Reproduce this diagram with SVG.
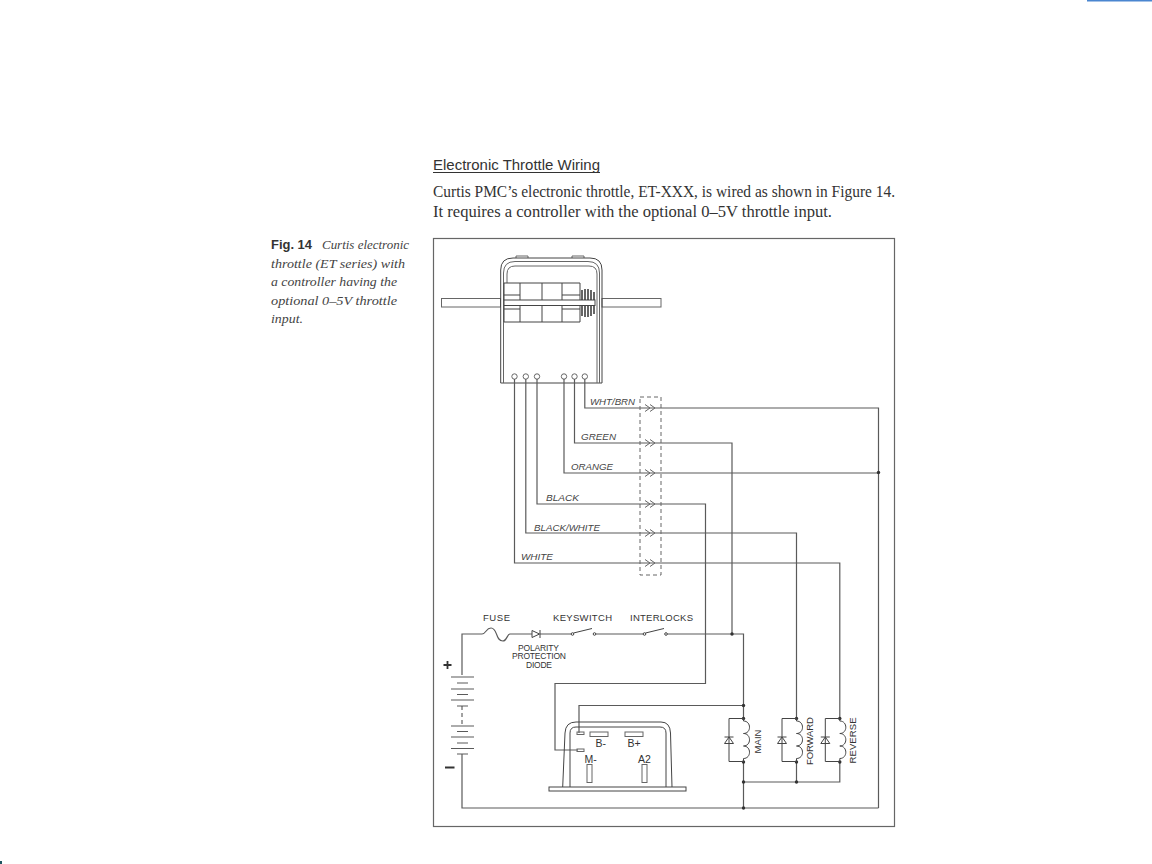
<svg xmlns="http://www.w3.org/2000/svg" width="1152" height="864" viewBox="0 0 1152 864">
<defs>
<style>
.l{fill:none;stroke:#444;stroke-width:1}
.w{fill:none;stroke:#5a5a5a;stroke-width:1.200}
.t{fill:none;stroke:#666;stroke-width:1}
.d{fill:#333;stroke:none}
.s{font-family:"Liberation Sans",Arial,sans-serif;fill:#333}
.i{font-family:"Liberation Sans",Arial,sans-serif;font-style:italic;font-size:9.5px;fill:#444}
.n{font-family:"Liberation Sans",Arial,sans-serif;font-size:9.5px;fill:#333}
.p{font-family:"Liberation Sans",Arial,sans-serif;font-size:8.5px;fill:#333}
.b{font-family:"Liberation Serif","Times New Roman",serif;font-size:17px;fill:#333}
.c{font-family:"Liberation Serif","Times New Roman",serif;font-style:italic;font-size:13.5px;fill:#444}
</style>
<g id="chev"><path class="t" d="M-5,-3.500 L0,0 L-5,3.500 M0,-3.500 L5,0 L0,3.500"/></g>
<g id="coil"><path class="l" d="M0,0 V2.500 C8,2.500 8,15 0,15 C8,15 8,27.500 0,27.500 C8,27.500 8,40 0,40 V43"/></g>
<g id="dio"><path class="l" d="M0,0 H-14.500 V43 H0 M-19,18.500 H-10 M-14.500,18.500 L-19,25 H-10 Z"/></g>
</defs>
<rect width="1152" height="864" fill="#fff"/>
<rect x="1087" y="0" width="65" height="1.500" fill="#4a86d0"/>
<rect x="0" y="861" width="2" height="3" fill="#1d5560"/>

<g id="heading">
<text class="s" x="433" y="170" font-size="14" textLength="167" lengthAdjust="spacingAndGlyphs">Electronic Throttle Wiring</text>
<path d="M433,172.500 H600" stroke="#333" stroke-width="1"/>
<text class="b" x="433" y="197" textLength="462" lengthAdjust="spacingAndGlyphs">Curtis PMC’s electronic throttle, ET-XXX, is wired as shown in Figure 14.</text>
<text class="b" x="433" y="217" textLength="399" lengthAdjust="spacingAndGlyphs">It requires a controller with the optional 0–5V throttle input.</text>
</g>
<g id="caption">
<text class="s" x="271" y="249" font-size="12" font-weight="bold" textLength="41" lengthAdjust="spacingAndGlyphs">Fig. 14</text>
<text class="c" x="322" y="249" textLength="87" lengthAdjust="spacingAndGlyphs">Curtis electronic</text>
<text class="c" x="271" y="268" textLength="134" lengthAdjust="spacingAndGlyphs">throttle (ET series) with</text>
<text class="c" x="271" y="286" textLength="126" lengthAdjust="spacingAndGlyphs">a controller having the</text>
<text class="c" x="271" y="305" textLength="126" lengthAdjust="spacingAndGlyphs">optional 0–5V throttle</text>
<text class="c" x="271" y="323" textLength="32" lengthAdjust="spacingAndGlyphs">input.</text>
</g>
<rect id="frame" x="433.500" y="238.500" width="461" height="588" fill="none" stroke="#666" stroke-width="1.200"/>

<g id="throttle">
<rect class="t" x="441.500" y="298.500" width="59" height="8.500"/>
<rect class="t" x="602" y="298.500" width="59" height="8.500"/>
<path class="t" d="M516,258 V256 H528 V258 M572,258 V256 H584 V258"/>
<path class="l" d="M500.700,383 V270 Q500.700,258 513,258 H590 Q602,258 602,270 V383 Z"/>
<path class="t" d="M503.500,383 V273 Q503.500,261.500 515,261.500 H588 Q599.500,261.500 599.500,273 V383"/>
<path class="t" d="M507,283 V274 Q507,266 515,266 H589 Q597,266 597,274 V383"/>
<path class="l" d="M504,283 H580 V300 M504,300 V283 M520,283 V300 M542,283 V300 M562,283 V300 M504,295 H520 M562,295 H580"/>
<path class="l" d="M504,306 V322 H580 V306 M520,306 V322 M542,306 V322 M562,306 V322 M504,309 H520 M562,309 H580"/>
<rect class="l" x="504" y="300" width="91" height="5.500"/>
<path d="M582,290 V300 M585,289 V300 M588,289 V300 M591,290 V300 M594,292 V300 M582,306 V316 M585,306 V317 M588,306 V317 M591,306 V316 M594,306 V314" fill="none" stroke="#333" stroke-width="1.500"/>
<circle class="t" cx="514.500" cy="376.500" r="2.700"/>
<circle class="t" cx="525.800" cy="376.500" r="2.700"/>
<circle class="t" cx="537" cy="376.500" r="2.700"/>
<circle class="t" cx="564" cy="376.500" r="2.700"/>
<circle class="t" cx="574.500" cy="376.500" r="2.700"/>
<circle class="t" cx="584.800" cy="376.500" r="2.700"/>
</g>

<g id="connectors">
<path class="w" d="M584.800,379 V408 H878.500 V808 M574.500,379 V443 H732 V634 M564,379 V473 H878.500 M537,379 V504 H705.500 V683.500 H555 V750 H578 M525.800,379 V533 H796.500 V718 M514.500,379 V563 H839.800 V718"/>
<path class="w" d="M462,675 V634 H482 M510,634 H532 M540,634 H572 M595,634 H644 M666.500,634 H743.500 V718.500 M743.500,762 V808 M462,754 V808 H878.500 M579,733 V705.500 H743.500 M743.500,782 H839.800 V762 M796.500,762 V782"/>
<rect x="640" y="397" width="21" height="178" fill="none" stroke="#666" stroke-width="1" stroke-dasharray="4 3"/>
<use href="#chev" x="650" y="408"/>
<use href="#chev" x="650" y="443"/>
<use href="#chev" x="650" y="473"/>
<use href="#chev" x="650" y="504"/>
<use href="#chev" x="650" y="533"/>
<use href="#chev" x="650" y="563"/>
<circle class="d" cx="878.500" cy="472.500" r="1.700"/>
<circle class="d" cx="732" cy="634" r="1.700"/>
<circle class="d" cx="743.500" cy="705.500" r="1.700"/>
<circle class="d" cx="743.500" cy="718.500" r="1.700"/>
<circle class="d" cx="743.500" cy="762" r="1.700"/>
<circle class="d" cx="743.500" cy="782" r="1.700"/>
<circle class="d" cx="743.500" cy="808" r="1.700"/>
<circle class="d" cx="796.500" cy="718.500" r="1.700"/>
<circle class="d" cx="796.500" cy="762" r="1.700"/>
<circle class="d" cx="796.500" cy="782" r="1.700"/>
<circle class="d" cx="839.800" cy="718.500" r="1.700"/>
<circle class="d" cx="839.800" cy="762" r="1.700"/>
</g>

<g id="wire-labels">
<text class="i" x="590" y="405" textLength="45" lengthAdjust="spacingAndGlyphs">WHT/BRN</text>
<text class="i" x="581" y="440" textLength="35" lengthAdjust="spacingAndGlyphs">GREEN</text>
<text class="i" x="571" y="470" textLength="42" lengthAdjust="spacingAndGlyphs">ORANGE</text>
<text class="i" x="546" y="501" textLength="33" lengthAdjust="spacingAndGlyphs">BLACK</text>
<text class="i" x="534" y="531" textLength="66" lengthAdjust="spacingAndGlyphs">BLACK/WHITE</text>
<text class="i" x="521" y="560" textLength="32" lengthAdjust="spacingAndGlyphs">WHITE</text>
</g>

<g id="fuse">
<path class="w" d="M482,634 C486,634 486,628 491,628 C498,628 495,641 503,641 C507,641 507,634 510,634"/>
<text class="n" x="483" y="621" textLength="27" lengthAdjust="spacing">FUSE</text>
</g>
<g id="diode">
<path class="l" d="M532,630.500 V637.500 L539.500,634 Z M540,630 V638"/>
<text class="p" x="518" y="651" textLength="41" lengthAdjust="spacing">POLARITY</text>
<text class="p" x="512" y="659" textLength="54" lengthAdjust="spacing">PROTECTION</text>
<text class="p" x="526" y="668" textLength="26" lengthAdjust="spacing">DIODE</text>
</g>
<g id="keyswitch">
<circle class="l" cx="572.500" cy="634" r="1.300" style="fill:#fff"/>
<circle class="l" cx="594.500" cy="634" r="1.300" style="fill:#fff"/>
<path class="l" d="M573.500,633 L592,628.500"/>
<text class="n" x="553" y="621" textLength="59" lengthAdjust="spacing">KEYSWITCH</text>
</g>
<g id="interlocks">
<circle class="l" cx="644.500" cy="634" r="1.300" style="fill:#fff"/>
<circle class="l" cx="666" cy="634" r="1.300" style="fill:#fff"/>
<path class="l" d="M645.500,633 L664,628.500"/>
<text class="n" x="630" y="621" textLength="63" lengthAdjust="spacing">INTERLOCKS</text>
</g>
<g id="battery">
<path class="w" d="M451,677 H474 M457,683 H468 M451,689 H474 M457,694.500 H468 M451,700 H474 M457,706 H468 M451,726 H474 M457,731.500 H468 M451,737 H474 M457,743 H468 M451,748.500 H474 M457,754 H468"/>
<path class="l" d="M462,706 V726" stroke-dasharray="4 3"/>
<path d="M443.500,665 H451.500 M447.500,661 V669 M445,767.500 H454.500" stroke="#333" stroke-width="1.800" fill="none"/>
</g>
<g id="controller">
<rect class="l" x="549" y="787" width="137" height="4"/>
<path class="l" d="M562.700,787 L565,733 Q565.500,722 576,722 H661 Q670,722 670.500,733 L672,787"/>
<path class="l" d="M570,787 V733 Q570,727 576,727 H660 Q666,727 666,733 V787"/>
<rect class="t" x="577" y="732" width="7" height="2.500"/>
<rect class="t" x="577" y="749" width="7" height="2.500"/>
<rect class="t" x="590" y="732" width="18" height="4.500"/>
<rect class="t" x="625" y="732" width="18" height="4.500"/>
<rect class="t" x="587" y="764.500" width="5" height="18"/>
<rect class="t" x="642" y="764.500" width="5" height="18"/>
<text class="s" x="595.500" y="747" font-size="10.500">B-</text>
<text class="s" x="627.500" y="747" font-size="10.500">B+</text>
<text class="s" x="584.500" y="763" font-size="10.500">M-</text>
<text class="s" x="638" y="763" font-size="10.500">A2</text>
</g>
<g id="main">
<use href="#coil" x="743.500" y="718.500"/>
<use href="#dio" x="743.500" y="718.500"/>
<text class="n" transform="translate(760.500,753.500) rotate(-90)" textLength="24" lengthAdjust="spacing">MAIN</text>
</g>
<g id="forward">
<use href="#coil" x="796.500" y="718.500"/>
<use href="#dio" x="796.500" y="718.500"/>
<text class="n" transform="translate(812.500,765) rotate(-90)" textLength="48" lengthAdjust="spacing">FORWARD</text>
</g>
<g id="reverse">
<use href="#coil" x="839.800" y="718.500"/>
<use href="#dio" x="839.800" y="718.500"/>
<text class="n" transform="translate(856,763.500) rotate(-90)" textLength="46" lengthAdjust="spacing">REVERSE</text>
</g>
</svg>
